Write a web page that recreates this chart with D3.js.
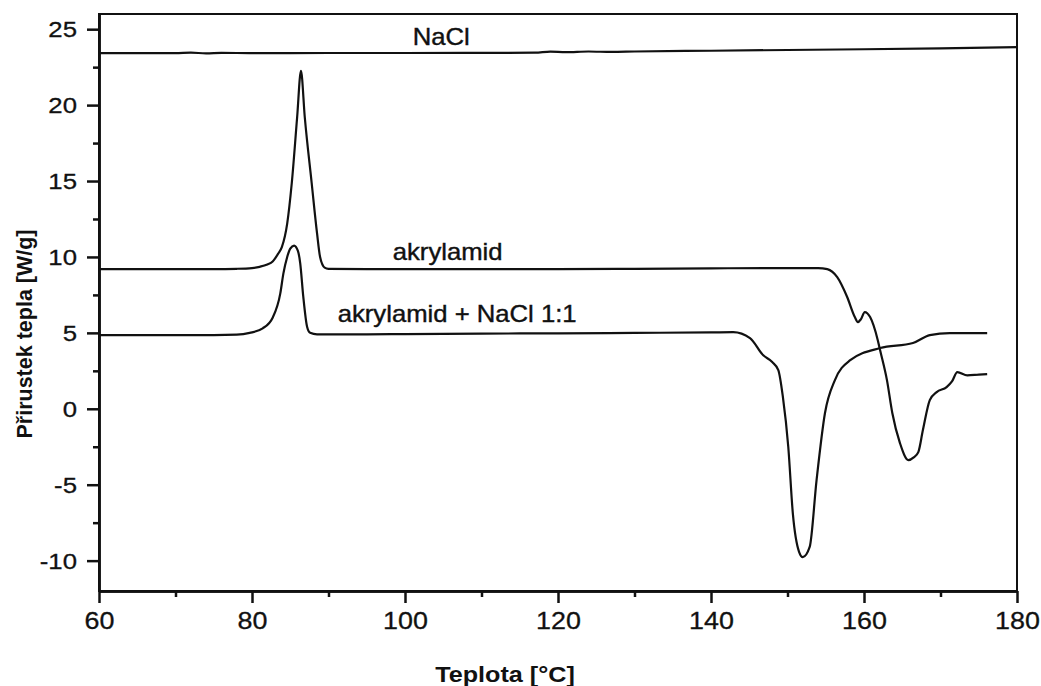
<!DOCTYPE html>
<html>
<head>
<meta charset="utf-8">
<script src="https://cdn.jsdelivr.net/npm/d3@7"></script>
<style>
  html, body { margin: 0; padding: 0; background: #fff; }
  svg { display: block; }
  text { font-family: "Liberation Sans", Arial, sans-serif; fill: #111; }
</style>
</head>
<body>
<svg id="chart" width="1041" height="686"></svg>
<script>
// DSC curves: heat flow vs. temperature
const naclT = [60, 70, 72, 74, 76, 80, 90, 100, 110, 117, 119, 121, 124, 127, 130, 140, 150, 160, 170, 180];
const naclW = [23.42, 23.42, 23.45, 23.41, 23.44, 23.42, 23.43, 23.43, 23.44, 23.45, 23.52, 23.49, 23.53, 23.5, 23.53, 23.58, 23.63, 23.68, 23.74, 23.82];

const akrT = [60, 75, 78, 80, 81, 82, 82.7, 83.4, 83.9, 84.6, 85.2, 85.9, 86.4, 86.9, 87.8, 88.5, 88.9, 89.5, 90, 95, 100, 110, 120, 130, 140, 150, 154, 155.2, 156.5, 157.8, 158.8, 159.2, 159.6, 160.1, 160.8, 161.8, 162.1, 163.0, 163.7, 164.7, 165.8, 166.5, 167.1, 167.7, 168.6, 169.5, 170.8, 171.5, 172.2, 173.5, 175, 176.1];
const akrW = [9.2, 9.2, 9.22, 9.27, 9.35, 9.5, 9.7, 10.2, 10.65, 12.2, 14.87, 19.2, 22.25, 19.2, 14.87, 11.57, 10.0, 9.3, 9.22, 9.2, 9.2, 9.2, 9.2, 9.22, 9.25, 9.27, 9.27, 9.2, 8.67, 7.36, 6.04, 5.71, 5.9, 6.37, 6.04, 4.52, 3.87, 1.89, -0.28, -2.26, -3.38, -3.2, -2.85, -1.4, 0.57, 1.1, 1.43, 1.8, 2.42, 2.2, 2.25, 2.28];

const mixT = [60, 75, 78, 79.7, 81.4, 82.7, 83.7, 84.1, 84.6, 85.0, 85.5, 86.0, 86.3, 86.7, 87.2, 87.6, 88.5, 95, 100, 110, 120, 130, 140, 142.9, 145.1, 146.8, 148, 148.8, 149.4, 150.1, 150.7, 151.5, 152, 152.9, 153.8, 154.9, 156.2, 158.2, 162.1, 166.4, 168.6, 171.2, 176.1];
const mixW = [4.85, 4.85, 4.88, 5.0, 5.3, 6.0, 7.6, 8.9, 10.0, 10.55, 10.75, 10.4, 9.6, 7.4, 5.4, 5.0, 4.9, 4.9, 4.92, 4.95, 4.97, 5.0, 5.03, 5.05, 4.66, 3.54, 3.08, 2.55, 0.77, -2.5, -6.9, -9.4, -9.77, -9.1, -4.7, -0.28, 1.89, 3.2, 4.0, 4.33, 4.85, 4.98, 4.98];

const xTicks = [60, 80, 100, 120, 140, 160, 180];
const xMinor = [70, 90, 110, 130, 150, 170];
const yTicks = [-10, -5, 0, 5, 10, 15, 20, 25];
const yMinor = [-7.5, -2.5, 2.5, 7.5, 12.5, 17.5, 22.5];

const curveNames = ["NaCl", "akrylamid", "akrylamid + NaCl 1:1"];
const labelT = [101.0, 98.4, 91.2];
const labelW = [23.96, 9.8, 5.71];

const W = 1041, H = 686;
const margin = { left: 99, right: 24, top: 14, bottom: 95 };
const sx = 1.12; // horizontal text widening

const svg = d3.select("#chart");
const x = d3.scaleLinear().domain([60, 180]).range([margin.left, W - margin.right]);
const y = d3.scaleLinear().domain([-12, 26]).range([H - margin.bottom, margin.top]);
const plain = d => String(d);

// frame
svg.append("rect")
  .attr("x", x(60)).attr("y", y(26))
  .attr("width", x(180) - x(60)).attr("height", y(-12) - y(26))
  .attr("fill", "none").attr("stroke", "#111").attr("stroke-width", 2);

// curves
const line = d3.line().x(d => x(d[0])).y(d => y(d[1])).curve(d3.curveMonotoneX);
const series = [d3.zip(naclT, naclW), d3.zip(akrT, akrW), d3.zip(mixT, mixW)];
svg.append("g").selectAll("path").data(series).join("path")
  .attr("d", line)
  .attr("fill", "none").attr("stroke", "#111").attr("stroke-width", 2.2)
  .attr("stroke-linejoin", "round");

// x axis
const xAxis = svg.append("g").attr("transform", `translate(0,${y(-12)})`)
  .call(d3.axisBottom(x).tickValues(xTicks).tickSize(12).tickSizeOuter(0).tickPadding(9).tickFormat(plain));
svg.append("g").attr("transform", `translate(0,${y(-12)})`)
  .call(d3.axisBottom(x).tickValues(xMinor).tickSize(6).tickSizeOuter(0).tickFormat(""));

// y axis
const yAxis = svg.append("g").attr("transform", `translate(${x(60)},0)`)
  .call(d3.axisLeft(y).tickValues(yTicks).tickSize(12).tickSizeOuter(0).tickPadding(10).tickFormat(plain));
svg.append("g").attr("transform", `translate(${x(60)},0)`)
  .call(d3.axisLeft(y).tickValues(yMinor).tickSize(6).tickSizeOuter(0).tickFormat(""));

svg.selectAll(".domain").attr("stroke", "#111").attr("stroke-width", 2.5);
svg.selectAll(".tick line").attr("stroke", "#111").attr("stroke-width", 2.5);

// tick labels widened horizontally
function widen(sel, size) {
  sel.each(function () {
    const t = d3.select(this);
    const tx = +t.attr("x") || 0, ty = +t.attr("y") || 0;
    t.attr("x", null).attr("y", null)
      .attr("transform", `translate(${tx},${ty}) scale(${sx},1)`);
  }).style("font-size", size + "px").attr("fill", "#111")
    .style("font-family", "Liberation Sans, Arial, sans-serif")
    .attr("stroke", "#111").attr("stroke-width", 0.3);
}
xAxis.selectAll(".tick text").call(widen, 24);
yAxis.selectAll(".tick text").call(widen, 23);

// axis titles
svg.append("text")
  .attr("transform", `translate(505,682) scale(${sx},1)`)
  .attr("text-anchor", "middle")
  .style("font-size", "22.5px").style("font-weight", "bold")
  .text("Teplota [°C]");

svg.append("text")
  .attr("transform", `translate(32,334) rotate(-90)`)
  .attr("text-anchor", "middle")
  .style("font-size", "21.5px").style("font-weight", "bold")
  .text("Přirustek tepla [W/g]");

// curve labels
svg.append("g").selectAll("text").data(curveNames).join("text")
  .attr("transform", (d, i) => `translate(${x(labelT[i])},${y(labelW[i])}) scale(1.07,1)`)
  .style("font-size", "24px")
  .attr("stroke", "#111").attr("stroke-width", 0.4)
  .text(d => d);
</script>
</body>
</html>
